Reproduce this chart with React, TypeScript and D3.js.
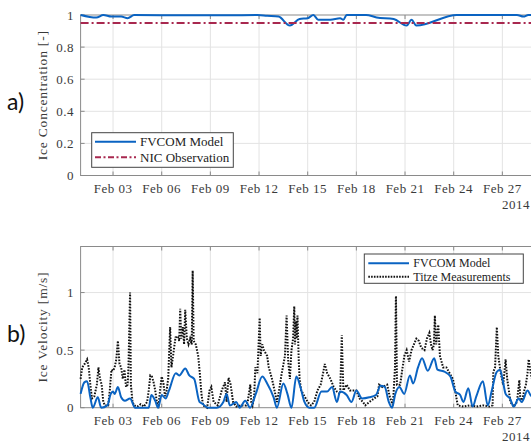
import { useRef, useEffect } from 'react';
import * as d3 from 'd3';

// days since 2014-02-01 00:00 UTC
const concDays = [0, 0.97, 1.4, 1.9, 2.5, 2.9, 3.3, 6, 9, 10.9, 11.5, 12.2, 12.9, 13.5, 14.0, 14.35, 14.65, 15.4, 16.0, 16.2, 16.4, 17.6, 18.25, 19.3, 20.1, 20.4, 20.7, 23.2, 26.9, 27.3, 27.6, 28];
const concModel = [1.0, 0.984, 1.0, 0.99, 0.99, 0.98, 1.0, 0.998, 0.998, 1.0, 0.995, 0.99, 0.934, 0.975, 0.98, 1.0, 0.97, 0.97, 0.98, 0.97, 1.0, 1.0, 0.985, 0.975, 0.934, 0.97, 0.934, 1.0, 1.0, 0.99, 1.0, 1.0];
const nicDays = [0, 28];
const nicObs = [0.95, 0.95];

const velModelDays = [0, 0.23, 0.4, 0.6, 0.75, 1.06, 1.27, 1.65, 1.86, 2.0, 2.1, 2.3, 2.5, 2.73, 3.05, 3.36, 4.2, 4.36, 4.6, 4.78, 5.0, 5.24, 5.45, 5.87, 6.08, 6.45, 6.7, 7.0, 7.33, 7.5, 7.85, 8.4, 8.8, 9.0, 9.2, 9.6, 9.8, 10.15, 10.45, 10.8, 11.2, 11.5, 11.9, 12.1, 12.5, 12.75, 13.0, 13.3, 13.55, 13.8, 14.1, 14.4, 14.85, 15.2, 15.5, 15.8, 16.0, 16.4, 16.7, 17.0, 17.35, 17.8, 18.2, 18.5, 18.75, 19.0, 19.2, 19.4, 19.65, 19.95, 20.3, 20.5, 20.8, 21.05, 21.4, 21.8, 22.0, 22.47, 22.8, 23.1, 23.4, 23.6, 23.9, 24.17, 24.4, 24.8, 25.1, 25.35, 25.65, 25.86, 26.02, 26.2, 26.47, 26.7, 27.0, 27.2, 27.55, 27.8, 28.0];
const velModel = [0.12, 0.22, 0.23, 0.09, 0.0, 0.09, 0.0, 0.02, 0.12, 0.14, 0.12, 0.18, 0.09, 0.06, 0.08, 0.0, 0.0, 0.11, 0.06, 0.0, 0.11, 0.08, 0.15, 0.3, 0.28, 0.34, 0.28, 0.25, 0.05, 0.035, 0.0, 0.0, 0.05, 0.12, 0.02, 0.05, 0.0, 0.06, 0.0, 0.12, 0.27, 0.21, 0.09, 0.0, 0.21, 0.12, 0.0, 0.27, 0.18, 0.05, 0.0, 0.0, 0.14, 0.14, 0.18, 0.05, 0.14, 0.11, 0.05, 0.15, 0.08, 0.09, 0.11, 0.19, 0.18, 0.05, 0.0, 0.12, 0.18, 0.12, 0.28, 0.21, 0.35, 0.43, 0.32, 0.43, 0.33, 0.31, 0.27, 0.14, 0.11, 0.05, 0.17, 0.01, 0.1, 0.23, 0.02, 0.15, 0.31, 0.33, 0.24, 0.12, 0.08, 0.01, 0.08, 0.05, 0.15, 0.1, 0.12];

const titzeDays = [0.0, 0.1, 0.25, 0.4, 0.5, 0.6, 0.7, 0.85, 1.0, 1.1, 1.2, 1.3, 1.4, 1.5, 1.7, 1.8, 1.9, 2.0, 2.1, 2.2, 2.3, 2.4, 2.5, 2.6, 2.7, 2.8, 2.9, 2.95, 3.05, 3.1, 3.2, 3.3, 3.5, 3.7, 3.9, 4.1, 4.2, 4.3, 4.4, 4.5, 4.6, 4.7, 4.8, 4.9, 5.0, 5.1, 5.2, 5.3, 5.4, 5.45, 5.52, 5.6, 5.7, 5.85, 6.0, 6.08, 6.14, 6.2, 6.3, 6.38, 6.45, 6.55, 6.65, 6.75, 6.85, 6.91, 6.97, 7.1, 7.25, 7.35, 7.45, 7.55, 7.8, 7.95, 8.06, 8.2, 8.45, 8.7, 8.9, 9.0, 9.05, 9.12, 9.25, 9.4, 9.6, 9.9, 10.2, 10.3, 10.46, 10.52, 10.6, 10.7, 10.77, 10.9, 11.04, 11.1, 11.2, 11.3, 11.5, 11.6, 11.8, 12.0, 12.1, 12.2, 12.4, 12.6, 12.7, 12.8, 12.9, 13.0, 13.1, 13.17, 13.22, 13.27, 13.32, 13.37, 13.45, 13.5, 13.6, 13.8, 14.0, 14.2, 14.4, 14.6, 14.8, 14.95, 15.05, 15.2, 15.4, 15.6, 15.8, 16.0, 16.1, 16.2, 16.4, 16.6, 16.8, 17.0, 17.2, 17.4, 17.55, 17.8, 18.1, 18.3, 18.4, 18.6, 18.9, 19.05, 19.25, 19.38, 19.44, 19.5, 19.7, 19.85, 19.96, 20.1, 20.25, 20.4, 20.55, 20.7, 20.85, 21.0, 21.2, 21.35, 21.5, 21.6, 21.7, 21.78, 21.84, 21.92, 22.05, 22.15, 22.35, 22.55, 22.75, 22.95, 23.05, 23.15, 23.25, 23.6, 24.0, 24.4, 24.8, 25.2, 25.4, 25.44, 25.55, 25.66, 25.75, 25.9, 26.05, 26.2, 26.3, 26.4, 26.5, 26.7, 26.9, 27.05, 27.1, 27.2, 27.35, 27.45, 27.55, 27.62, 27.75, 27.9, 28.0];
const titze = [0.25, 0.35, 0.38, 0.42, 0.35, 0.2, 0.08, 0.1, 0.2, 0.35, 0.25, 0.2, 0.05, 0.02, 0.02, 0.15, 0.33, 0.32, 0.35, 0.42, 0.58, 0.38, 0.35, 0.25, 0.33, 0.18, 0.2, 0.35, 1.0, 0.2, 0.05, 0.02, 0.01, 0.03, 0.01, 0.05, 0.15, 0.28, 0.27, 0.22, 0.15, 0.05, 0.02, 0.15, 0.27, 0.22, 0.1, 0.15, 0.25, 0.45, 0.7, 0.35, 0.45, 0.61, 0.62, 0.58, 0.86, 0.6, 0.7, 0.55, 0.85, 0.6, 0.55, 0.6, 0.55, 1.19, 0.58, 0.55, 0.45, 0.3, 0.12, 0.02, 0.0, 0.15, 0.18, 0.05, 0.02, 0.15, 0.22, 0.05, 0.15, 0.26, 0.2, 0.05, 0.01, 0.02, 0.02, 0.05, 0.2, 0.05, 0.02, 0.1, 0.35, 0.3, 0.78, 0.45, 0.55, 0.5, 0.45, 0.35, 0.25, 0.12, 0.05, 0.12, 0.3, 0.45, 0.8, 0.4, 0.25, 0.5, 0.6, 0.88, 0.55, 0.75, 0.6, 0.8, 0.4, 0.25, 0.15, 0.1, 0.05, 0.02, 0.05, 0.15, 0.2, 0.3, 0.38, 0.3, 0.25, 0.18, 0.14, 0.12, 0.63, 0.15, 0.2, 0.15, 0.15, 0.15, 0.08, 0.05, 0.02, 0.05, 0.08, 0.1, 0.2, 0.18, 0.2, 0.1, 0.02, 0.35, 0.97, 0.2, 0.2, 0.35, 0.45, 0.5, 0.4, 0.5, 0.55, 0.6, 0.58, 0.52, 0.5, 0.6, 0.65, 0.55, 0.5, 0.55, 0.8, 0.55, 0.72, 0.45, 0.35, 0.35, 0.3, 0.25, 0.18, 0.1, 0.02, 0.01, 0.02, 0.01, 0.02, 0.01, 0.02, 0.31, 0.35, 0.7, 0.45, 0.3, 0.2, 0.42, 0.25, 0.15, 0.05, 0.01, 0.05, 0.24, 0.1, 0.05, 0.15, 0.2, 0.3, 0.42, 0.3, 0.2, 0.15];

const tickDates = ['2014-02-03', '2014-02-06', '2014-02-09', '2014-02-12', '2014-02-15', '2014-02-18', '2014-02-21', '2014-02-24', '2014-02-27'];
const concTicks = [0, 0.2, 0.4, 0.6, 0.8, 1];
const velTicks = [0, 0.5, 1];

const BLUE = '#0a63c2';
const RED = '#a8284f';
const SERIF = "'Liberation Serif', 'DejaVu Serif', 'Noto Serif', serif";

const start = Date.UTC(2014, 1, 1);
const toDate = (d: number) => new Date(start + d * 86400000);

export default function App() {
  const svgRef = useRef<SVGSVGElement>(null);

  useEffect(() => {
    if (!svgRef.current) return;
    const svg = d3.select(svgRef.current);
    svg.selectAll('*').remove();

    const x = d3.scaleUtc()
      .domain([new Date(start), new Date(Date.UTC(2014, 2, 1))])
      .range([80.6, 534.8]);
    const ticks = tickDates.map((s) => new Date(s + 'T00:00:00Z'));
    const fmt = d3.utcFormat('%b %d');

    const panel = (top: number, bottom: number, yMax: number, yTicks: number[], yFmt: (v: number) => string, yLabel: string, tag: string) => {
      const y = d3.scaleLinear().domain([0, yMax]).range([bottom, top]);
      const g = svg.append('g');
      const [x0, x1] = x.range();

      // grid
      g.selectAll('.vg').data(ticks).join('line')
        .attr('x1', (d) => x(d)).attr('x2', (d) => x(d))
        .attr('y1', top).attr('y2', bottom)
        .attr('stroke', '#e3e3e3').attr('stroke-width', 1);
      g.selectAll('.hg').data(yTicks.filter((t) => t > 0 && t < yMax)).join('line')
        .attr('x1', x0).attr('x2', x1)
        .attr('y1', (d) => y(d)).attr('y2', (d) => y(d))
        .attr('stroke', '#e3e3e3').attr('stroke-width', 1);

      // box
      g.append('rect')
        .attr('x', x0).attr('y', top).attr('width', x1 - x0).attr('height', bottom - top)
        .attr('fill', 'none').attr('stroke', '#8a8a8a').attr('stroke-width', 1);

      // ticks (inward)
      g.selectAll('.xt').data(ticks).join('line')
        .attr('x1', (d) => x(d)).attr('x2', (d) => x(d))
        .attr('y1', bottom).attr('y2', bottom - 4)
        .attr('stroke', '#8a8a8a');
      g.selectAll('.xtt').data(ticks).join('line')
        .attr('x1', (d) => x(d)).attr('x2', (d) => x(d))
        .attr('y1', top).attr('y2', top + 4)
        .attr('stroke', '#8a8a8a');
      g.selectAll('.yt').data(yTicks).join('line')
        .attr('x1', x0).attr('x2', x0 + 4)
        .attr('y1', (d) => y(d)).attr('y2', (d) => y(d))
        .attr('stroke', '#8a8a8a');

      // tick labels
      g.selectAll('.xl').data(ticks).join('text')
        .attr('x', (d) => x(d)).attr('y', bottom + 17.5)
        .attr('text-anchor', 'middle')
        .style('font-family', SERIF).attr('font-size', 13).attr('letter-spacing', 0.5)
        .attr('fill', '#3a3a3a')
        .text((d) => fmt(d));
      g.append('text')
        .attr('x', 530).attr('y', bottom + 33.5)
        .attr('text-anchor', 'end')
        .style('font-family', SERIF).attr('font-size', 13).attr('letter-spacing', 0.5)
        .attr('fill', '#3a3a3a')
        .text('2014');
      g.selectAll('.yl').data(yTicks).join('text')
        .attr('x', 74).attr('y', (d) => y(d) + 4.5)
        .attr('text-anchor', 'end')
        .style('font-family', SERIF).attr('font-size', 13).attr('letter-spacing', 0.5)
        .attr('fill', '#3a3a3a')
        .text((d) => yFmt(d));

      // axis label
      g.append('text')
        .attr('transform', `translate(47, ${(top + bottom) / 2}) rotate(-90)`)
        .attr('text-anchor', 'middle')
        .style('font-family', SERIF).attr('font-size', 13.5).attr('letter-spacing', 0.8)
        .attr('fill', '#3a3a3a')
        .text(yLabel);

      // panel tag
      g.append('text')
        .attr('x', 7).attr('y', (top + bottom) / 2 + 15)
        .style('font-family', "Lato, 'Open Sans', sans-serif").attr('font-size', 23)
        .attr('fill', '#111')
        .text(tag);

      return y;
    };

    // ---- panel a
    const yA = panel(15, 175.5, 1, concTicks, (v) => (v === 0 || v === 1 ? String(v) : v.toFixed(1)), 'Ice Concentration [-]', 'a)');
    const lineA = d3.line<number>().x((d, i) => x(toDate(concDays[i]))).y((d) => yA(d)).curve(d3.curveMonotoneX);
    svg.append('path').attr('d', lineA(concModel) as string)
      .attr('fill', 'none').attr('stroke', BLUE).attr('stroke-width', 2);
    const lineNic = d3.line<number>().x((d, i) => x(toDate(nicDays[i]))).y((d) => yA(d));
    svg.append('path').attr('d', lineNic(nicObs) as string)
      .attr('fill', 'none').attr('stroke', RED).attr('stroke-width', 2)
      .attr('stroke-dasharray', '8 3 2 3');

    // ---- panel b
    const yB = panel(246.5, 407.7, 1.4, velTicks, (v) => String(v), 'Ice Velocity [m/s]', 'b)');
    const lineT = d3.line<number>().x((d, i) => x(toDate(titzeDays[i]))).y((d) => yB(d));
    svg.append('path').attr('d', lineT(titze) as string)
      .attr('fill', 'none').attr('stroke', '#111').attr('stroke-width', 2)
      .attr('stroke-dasharray', '1.6 1.4');
    const lineM = d3.line<number>().x((d, i) => x(toDate(velModelDays[i]))).y((d) => yB(d)).curve(d3.curveMonotoneX);
    svg.append('path').attr('d', lineM(velModel) as string)
      .attr('fill', 'none').attr('stroke', BLUE).attr('stroke-width', 2);

    // ---- legends
    const legend = (x0: number, y0: number, w: number, h: number, rows: { label: string; color: string; dash: string | null; width: number }[], rowY: number[], sx: number[], tx: number, fs: number) => {
      const g = svg.append('g');
      g.append('rect').attr('x', x0).attr('y', y0).attr('width', w).attr('height', h)
        .attr('fill', '#fff').attr('stroke', '#444').attr('stroke-width', 1);
      rows.forEach((r, i) => {
        g.append('line').attr('x1', sx[0]).attr('x2', sx[1]).attr('y1', rowY[i]).attr('y2', rowY[i])
          .attr('stroke', r.color).attr('stroke-width', r.width)
          .attr('stroke-dasharray', r.dash);
        g.append('text').attr('x', tx).attr('y', rowY[i] + fs * 0.34)
          .style('font-family', SERIF).attr('font-size', fs)
          .attr('fill', '#222')
          .text(r.label);
      });
    };

    legend(91.7, 132.7, 141.6, 34.6, [
      { label: 'FVCOM Model', color: BLUE, dash: null, width: 2 },
      { label: 'NIC Observation', color: RED, dash: '6 2.5 2 2.5', width: 2 },
    ], [141.8, 157.3], [95, 136], 140, 13);

    legend(364.3, 254, 159, 29.3, [
      { label: 'FVCOM Model', color: BLUE, dash: null, width: 2 },
      { label: 'Titze Measurements', color: '#111', dash: '1.6 1.2', width: 2 },
    ], [263.3, 276.7], [368.3, 409], 413.3, 12);
  }, []);

  return (
    <svg
      ref={svgRef}
      width={531}
      height={444}
      style={{ position: 'absolute', left: 0, top: 0, background: '#fff' }}
    />
  );
}
